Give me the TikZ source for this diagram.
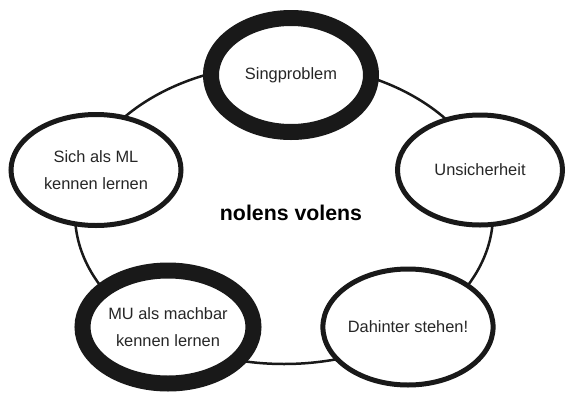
\documentclass[tikz,border=0pt]{standalone}
\usepackage{fontspec}
\setmainfont{Liberation Sans}
\usetikzlibrary{shapes.geometric}
\begin{document}
\begin{tikzpicture}[x=1pt,y=-1pt,
  topic/.style={ellipse, draw=black!90, fill=white, inner sep=0pt,
    align=center, font=\fontsize{16.4}{27}\selectfont, text=black!85},
  thin ring/.style={topic, line width=5pt},
  thick ring/.style={topic, line width=16pt},
  loop/.style={ellipse, draw=black!90, line width=2.5pt, inner sep=0pt}]
  \useasboundingbox[fill=white] (0,0) rectangle (566,392);

  % the cycle that links all five stages
  \node[loop, minimum width=418pt, minimum height=300pt] (cycle) at (284,214) {};

  % stages on the cycle
  \node[thick ring, minimum width=160pt, minimum height=114pt] (sing) at (291,75) {Singproblem};
  \node[thin ring, minimum width=170pt, minimum height=111pt] (sich) at (96,170) {Sich als ML\\kennen lernen};
  \node[thin ring, minimum width=165pt, minimum height=110pt] (unsich) at (480,170) {Unsicherheit};
  \node[thick ring, minimum width=171pt, minimum height=113pt] (mu) at (168,327) {MU als machbar\\kennen lernen};
  \node[thin ring, minimum width=168pt, minimum height=116pt] (dahinter) at (408,327) {Dahinter stehen!};

  % central label
  \node[font=\bfseries\fontsize{21.3}{24}\selectfont, text=black] (title) at (291,213) {nolens volens};
\end{tikzpicture}
\end{document}
